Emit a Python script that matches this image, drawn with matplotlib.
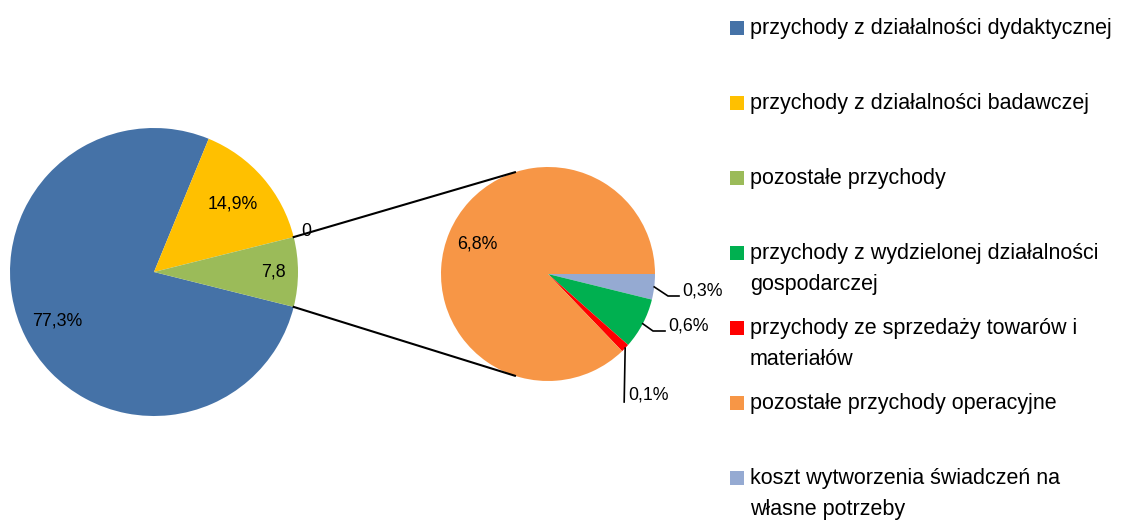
import numpy as np
import matplotlib
matplotlib.use('Agg')
import matplotlib.pyplot as plt
from matplotlib.patches import Rectangle

plt.rcParams['font.family'] = ['Liberation Sans', 'DejaVu Sans']

# data
main_names = ['przychody z działalności dydaktycznej',
              'przychody z działalności badawczej',
              'pozostałe przychody']
main_vals = [77.3, 14.9, 7.8]
main_labels = ['77,3%', '14,9%', '7,8']
main_colors = ['#4572A7', '#FFC000', '#9BBB59']

sub_names = ['koszt wytworzenia świadczeń na\nwłasne potrzeby',
             'przychody z wydzielonej działalności\ngospodarczej',
             'przychody ze sprzedaży towarów i\nmateriałów',
             'pozostałe przychody operacyjne']
sub_vals = [0.3, 0.6, 0.1, 6.8]
sub_labels = ['0,3%', '0,6%', '0,1%', '6,8%']
sub_colors = ['#95AAD2', '#00B050', '#FF0000', '#F79646']

legend_names = [main_names[0], main_names[1], main_names[2],
                sub_names[1], sub_names[2], sub_names[3], sub_names[0]]
legend_colors = [main_colors[0], main_colors[1], main_colors[2],
                 sub_colors[1], sub_colors[2], sub_colors[3], sub_colors[0]]

W, H = 1122, 528
fig = plt.figure(figsize=(W / 100, H / 100), dpi=100)
ax = fig.add_axes([0, 0, 1, 1])

# left pie
c1, r1 = (154, 256), 144
start1 = -360 * main_vals[2] / sum(main_vals) / 2
w1, _ = ax.pie(main_vals, colors=main_colors, center=c1, radius=r1,
               startangle=start1, counterclock=False,
               wedgeprops=dict(linewidth=0))

# right pie
c2, r2 = (548, 254), 107
w2, _ = ax.pie(sub_vals, colors=sub_colors, center=c2, radius=r2,
               startangle=0, counterclock=False,
               wedgeprops=dict(linewidth=0))

fs_lab = 12.8

# labels inside left pie
dists = [0.75, 0.72, 0.83]
for w, lab, d in zip(w1, main_labels, dists):
    a = np.deg2rad((w.theta1 + w.theta2) / 2)
    ax.text(c1[0] + d * r1 * np.cos(a), c1[1] + d * r1 * np.sin(a), lab,
            ha='center', va='center', fontsize=fs_lab)

# zero label near yellow/green border
a0 = np.deg2rad(-start1)
ax.text(c1[0] + 1.06 * r1 * np.cos(a0) + 4, c1[1] + 1.06 * r1 * np.sin(a0) + 3, '0',
        ha='center', va='center', fontsize=fs_lab)

# connector lines
for s in (1, -1):
    a = np.deg2rad(s * start1 * -1)
    p1 = (c1[0] + r1 * np.cos(a), c1[1] + r1 * np.sin(a))
    b = np.deg2rad(s * 108)
    p2 = (c2[0] + r2 * np.cos(b), c2[1] + r2 * np.sin(b))
    ax.plot([p1[0], p2[0]], [p1[1], p2[1]], color='black', lw=1.5)

# labels right pie
big = w2[3]
a = np.deg2rad((big.theta1 + big.theta2) / 2)
ax.text(c2[0] + 0.72 * r2 * np.cos(a), c2[1] + 0.72 * r2 * np.sin(a), sub_labels[3],
        ha='center', va='center', fontsize=fs_lab)

# leader lines for small slices
ends = [(668, 232, 679), (653, 197, 665)]
for w, lab, (ex, ey, tx) in zip(w2[:2], sub_labels[:2], ends):
    a = np.deg2rad((w.theta1 + w.theta2) / 2)
    px, py = c2[0] + r2 * np.cos(a), c2[1] + r2 * np.sin(a)
    ax.plot([px, ex, tx], [py, ey, ey], color='black', lw=1.2)
    ax.text(tx + 3, ey + 5, lab, ha='left', va='center', fontsize=fs_lab)

w = w2[2]
a = np.deg2rad((w.theta1 + w.theta2) / 2)
px, py = c2[0] + r2 * np.cos(a), c2[1] + r2 * np.sin(a)
ax.plot([px, px - 1], [py, 126], color='black', lw=1.2)
ax.text(px + 3, 133, sub_labels[2], ha='left', va='center', fontsize=fs_lab)

# legend
for i, (name, col) in enumerate(zip(legend_names, legend_colors)):
    yc = H - (28 + 75 * i)
    ax.add_patch(Rectangle((730, yc - 7), 14, 14, color=col, lw=0))
    ax.text(750, yc + 10, name, ha='left', va='top', fontsize=15.5,
            linespacing=1.6)

ax.set_xlim(0, W)
ax.set_ylim(0, H)
ax.set_aspect('equal')
ax.axis('off')

fig.savefig('out.png', dpi=100)
